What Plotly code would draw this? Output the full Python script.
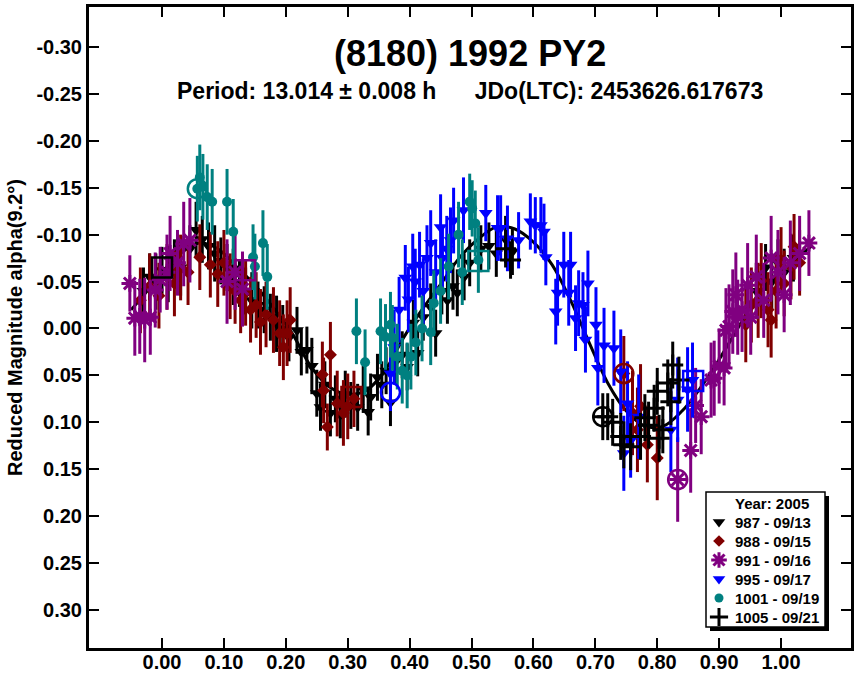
import plotly.graph_objects as go

# ---- data ----
# session 987 - 09/13 (black triangles)
ph_987 = [-0.030, -0.020, -0.010, 0.000, 0.010, 0.020, 0.030, 0.045, 0.055, 0.065,
          0.075, 0.085, 0.095, 0.105, 0.115, 0.125, 0.135, 0.145, 0.155, 0.165,
          0.175, 0.185, 0.195, 0.205, 0.218, 0.225, 0.234, 0.242, 0.250, 0.256,
          0.263, 0.272, 0.280, 0.288, 0.296, 0.305, 0.316, 0.325, 0.333, 0.337,
          0.348, 0.355, 0.362, 0.369, 0.378, 0.388, 0.396, 0.406, 0.413, 0.422,
          0.434, 0.442, 0.452, 0.461, 0.470, 0.477, 0.488, 0.497, 0.515, 0.528,
          0.540, 0.555, 0.566, 0.960, 0.975, 0.985, 0.995, 1.005, 1.020]
mag_987 = [-0.040, -0.055, -0.050, -0.062, -0.058, -0.070, -0.065, -0.085, -0.105, -0.095,
           -0.088, -0.080, -0.072, -0.065, -0.055, -0.048, -0.040, -0.030, -0.025, -0.020,
           -0.012, -0.005, 0.000, 0.010, 0.002, 0.025, 0.023, 0.040, 0.069, 0.084,
           0.060, 0.090, 0.075, 0.092, 0.070, 0.082, 0.084, 0.065, 0.089, 0.073,
           0.052, 0.060, 0.045, 0.079, 0.035, 0.028, 0.041, -0.006, 0.026, -0.012,
           -0.023, 0.005, -0.040, -0.030, -0.045, -0.038, -0.055, -0.070, -0.085, -0.088,
           -0.080, -0.095, -0.082, -0.040, -0.065, -0.050, -0.070, -0.060, -0.075]
err_987 = [0.025, 0.025, 0.030, 0.025, 0.030, 0.025, 0.030, 0.025, 0.030, 0.025,
           0.025, 0.030, 0.025, 0.025, 0.030, 0.025, 0.025, 0.030, 0.025, 0.025,
           0.025, 0.030, 0.025, 0.025, 0.025, 0.025, 0.025, 0.030, 0.025, 0.025,
           0.025, 0.025, 0.025, 0.025, 0.025, 0.025, 0.025, 0.025, 0.025, 0.025,
           0.025, 0.025, 0.025, 0.025, 0.025, 0.025, 0.025, 0.025, 0.025, 0.025,
           0.025, 0.025, 0.025, 0.025, 0.025, 0.025, 0.025, 0.025, 0.025, 0.025,
           0.025, 0.025, 0.025, 0.030, 0.025, 0.030, 0.025, 0.025, 0.025]

# session 988 - 09/15 (dark red diamonds)
ph_988 = [-0.035, -0.020, -0.005, 0.008, 0.020, 0.030, 0.042, 0.061, 0.078, 0.090,
          0.100, 0.110, 0.118, 0.127, 0.135, 0.143, 0.152, 0.159, 0.168, 0.180,
          0.190, 0.196, 0.202, 0.207, 0.259, 0.261, 0.267, 0.272, 0.283, 0.293,
          0.300, 0.310, 0.746, 0.760, 0.768, 0.773, 0.784, 0.800, 0.943, 0.952,
          0.963, 0.968, 0.979, 0.984, 0.992, 1.000, 1.005, 1.016, 1.021, 1.030]
mag_988 = [-0.030, -0.045, -0.035, -0.055, -0.048, -0.065, -0.060, -0.076, -0.068, -0.058,
           -0.070, -0.045, -0.040, -0.030, -0.038, -0.020, -0.025, -0.007, -0.015, -0.009,
           0.005, 0.020, 0.005, -0.009, 0.049, 0.066, 0.105, 0.028, 0.080, 0.090,
           0.083, 0.075, 0.048, 0.090, 0.108, 0.083, 0.124, 0.138, -0.004, -0.025,
           -0.030, -0.051, -0.020, -0.009, -0.040, -0.073, -0.048, -0.066, -0.087, -0.070]
err_988 = [0.035, 0.035, 0.035, 0.035, 0.035, 0.035, 0.035, 0.035, 0.035, 0.035,
           0.035, 0.035, 0.035, 0.035, 0.035, 0.035, 0.035, 0.035, 0.035, 0.035,
           0.035, 0.035, 0.035, 0.035, 0.035, 0.035, 0.025, 0.035, 0.035, 0.035,
           0.035, 0.030, 0.040, 0.045, 0.045, 0.045, 0.040, 0.045, 0.040, 0.040,
           0.040, 0.040, 0.040, 0.040, 0.040, 0.035, 0.035, 0.035, 0.035, 0.035]

# session 991 - 09/16 (purple asterisks)
ph_991 = [-0.052, -0.044, -0.036, -0.028, -0.019, -0.011, -0.003, 0.008, 0.013, 0.025,
          0.035, 0.045, 0.105, 0.118, 0.130, 0.833, 0.854, 0.862, 0.871, 0.887,
          0.892, 0.900, 0.908, 0.911, 0.916, 0.922, 0.927, 0.930, 0.937, 0.946,
          0.951, 0.960, 0.972, 0.984, 0.995, 1.005, 1.015, 1.030, 1.045]
mag_991 = [-0.048, -0.011, -0.013, -0.009, -0.012, -0.041, -0.052, -0.060, -0.080, -0.070,
           -0.090, -0.094, -0.050, -0.060, -0.042, 0.161, 0.130, 0.082, 0.094, 0.055,
           0.053, 0.040, 0.042, 0.002, -0.002, -0.018, -0.036, -0.012, -0.020, -0.046,
           -0.012, -0.055, -0.030, -0.075, -0.060, -0.036, -0.070, -0.080, -0.091]
err_991 = [0.030, 0.040, 0.040, 0.045, 0.040, 0.040, 0.035, 0.040, 0.040, 0.035,
           0.045, 0.045, 0.045, 0.040, 0.040, 0.045, 0.045, 0.040, 0.040, 0.040,
           0.040, 0.040, 0.040, 0.045, 0.045, 0.045, 0.045, 0.040, 0.045, 0.045,
           0.040, 0.045, 0.040, 0.045, 0.045, 0.040, 0.045, 0.040, 0.035]

# session 995 - 09/17 (blue triangles)
ph_995 = [0.369, 0.375, 0.383, 0.393, 0.398, 0.405, 0.409, 0.416, 0.422, 0.428,
          0.434, 0.442, 0.450, 0.453, 0.460, 0.466, 0.471, 0.487, 0.523, 0.542,
          0.547, 0.558, 0.576, 0.595, 0.603, 0.612, 0.617, 0.620, 0.636, 0.639,
          0.649, 0.657, 0.660, 0.668, 0.673, 0.680, 0.684, 0.688, 0.701, 0.704,
          0.714, 0.730, 0.741, 0.746, 0.752, 0.757, 0.770, 0.822, 0.833, 0.849,
          0.857]
mag_995 = [0.048, 0.020, -0.020, -0.054, -0.031, -0.066, -0.050, -0.068, -0.040, -0.075,
           -0.091, -0.060, -0.108, -0.075, -0.085, -0.094, -0.115, -0.126, -0.123, -0.107,
           -0.107, -0.096, -0.094, -0.114, -0.110, -0.110, -0.103, -0.076, -0.018, -0.038,
           -0.068, -0.038, -0.068, -0.011, -0.027, -0.025, 0.012, -0.048, -0.004, 0.042,
           0.018, 0.021, 0.046, 0.133, 0.080, 0.119, 0.094, 0.108, 0.076, 0.065,
           0.055]
err_995 = [0.040, 0.040, 0.035, 0.035, 0.035, 0.035, 0.035, 0.035, 0.035, 0.035,
           0.035, 0.035, 0.035, 0.035, 0.035, 0.035, 0.035, 0.035, 0.030, 0.035,
           0.035, 0.035, 0.030, 0.030, 0.030, 0.030, 0.030, 0.030, 0.035, 0.035,
           0.035, 0.035, 0.035, 0.035, 0.035, 0.035, 0.035, 0.035, 0.040, 0.040,
           0.040, 0.040, 0.045, 0.040, 0.045, 0.040, 0.045, 0.045, 0.045, 0.045,
           0.040]

# session 1001 - 09/19 (teal circles)
ph_1001 = [0.057, 0.061, 0.066, 0.073, 0.081, 0.105, 0.115, 0.147, 0.150, 0.163,
           0.170, 0.314, 0.328, 0.353, 0.361, 0.369, 0.372, 0.380, 0.388, 0.396,
           0.402, 0.410, 0.420, 0.434, 0.439, 0.450, 0.463, 0.479, 0.485, 0.497,
           0.501, 0.506, 0.511]
mag_1001 = [-0.149, -0.161, -0.151, -0.140, -0.135, -0.135, -0.103, -0.076, -0.066, -0.091,
            -0.055, 0.003, 0.036, 0.003, 0.009, -0.004, 0.010, 0.030, 0.045, 0.050,
            0.030, 0.015, 0.000, 0.004, -0.027, -0.040, -0.066, -0.100, -0.060, -0.135,
            -0.128, -0.112, -0.073]
err_1001 = [0.035, 0.035, 0.035, 0.035, 0.035, 0.035, 0.035, 0.035, 0.035, 0.035,
            0.035, 0.035, 0.035, 0.035, 0.035, 0.035, 0.035, 0.035, 0.035, 0.035,
            0.035, 0.035, 0.035, 0.035, 0.035, 0.035, 0.035, 0.035, 0.035, 0.030,
            0.030, 0.035, 0.035]

# session 1005 - 09/21 (black crosses)
ph_1005 = [0.555, 0.563, 0.712, 0.720, 0.728, 0.741, 0.746, 0.757, 0.773, 0.780,
           0.786, 0.795, 0.800, 0.803, 0.809, 0.817, 0.822, 0.825, 0.835]
mag_1005 = [-0.085, -0.073, 0.094, 0.094, 0.100, 0.115, 0.124, 0.126, 0.115, 0.095,
            0.103, 0.085, 0.067, 0.117, 0.108, 0.058, 0.078, 0.039, 0.055]
err_1005 = [0.020, 0.020, 0.025, 0.025, 0.025, 0.025, 0.025, 0.025, 0.025, 0.025,
            0.025, 0.025, 0.025, 0.025, 0.025, 0.025, 0.025, 0.025, 0.025]

# first (open circle) and last (open square) point of each session, None = not seen
first_ph = [None, 0.746, 0.833, 0.369, 0.057, 0.712]
first_mag = [None, 0.048, 0.161, 0.068, -0.149, 0.094]
last_ph = [None, 0.306, 0.134, 0.858, 0.511, 0.000]
last_mag = [None, 0.073, -0.062, 0.056, -0.072, -0.065]

# Fourier fit curve
fit_ph = [-0.05, -0.03, 0.00, 0.03, 0.06, 0.09, 0.12, 0.15, 0.18, 0.21,
          0.24, 0.27, 0.30, 0.33, 0.36, 0.39, 0.42, 0.45, 0.48, 0.51,
          0.54, 0.57, 0.60, 0.63, 0.66, 0.69, 0.72, 0.75, 0.78, 0.81,
          0.84, 0.87, 0.90, 0.93, 0.96, 0.99, 1.02, 1.05]
fit_mag = [-0.020, -0.035, -0.060, -0.080, -0.091, -0.085, -0.066, -0.046, -0.022, 0.005,
           0.040, 0.062, 0.070, 0.066, 0.045, 0.010, -0.020, -0.047, -0.075, -0.095,
           -0.108, -0.106, -0.092, -0.068, -0.030, 0.015, 0.058, 0.088, 0.104, 0.104,
           0.088, 0.063, 0.033, 0.000, -0.033, -0.055, -0.072, -0.088]

session_names = ["987 - 09/13", "988 - 09/15", "991 - 09/16",
                 "995 - 09/17", "1001 - 09/19", "1005 - 09/21"]
legend_title = "Year: 2005"

x_tick_vals = [0.0, 0.1, 0.2, 0.3, 0.4, 0.5, 0.6, 0.7, 0.8, 0.9, 1.0]
x_tick_text = ["0.00", "0.10", "0.20", "0.30", "0.40", "0.50",
               "0.60", "0.70", "0.80", "0.90", "1.00"]
y_tick_vals = [-0.30, -0.25, -0.20, -0.15, -0.10, -0.05, 0.0,
               0.05, 0.10, 0.15, 0.20, 0.25, 0.30]
y_tick_text = ["-0.30", "-0.25", "-0.20", "-0.15", "-0.10", "-0.05", "0.00",
               "0.05", "0.10", "0.15", "0.20", "0.25", "0.30"]

# ---- styles ----
colors = ["black", "#800000", "#800080", "#0000ff", "#008080", "black"]
symbols = ["triangle-down", "diamond", "asterisk-open", "triangle-down", "circle", "cross-thin-open"]
sizes = [12, 10, 14, 12, 10, 15]
legend_sizes = [11, 9, 13, 11, 9, 13]
FONT = "Liberation Sans, Arial, sans-serif"

# plot area in pixels (for placing the hand made legend box)
L, R, T, B = 89, 851, 7, 648


def px(x):
    return (x - L) / (R - L)


def py(y):
    return (B - y) / (B - T)


all_ph = [ph_987, ph_988, ph_991, ph_995, ph_1001, ph_1005]
all_mag = [mag_987, mag_988, mag_991, mag_995, mag_1001, mag_1005]
all_err = [err_987, err_988, err_991, err_995, err_1001, err_1005]

fig = go.Figure()

# fit curve behind the points
fig.add_trace(go.Scatter(x=fit_ph, y=fit_mag, mode="lines",
                         line=dict(color="black", width=3, shape="spline"),
                         showlegend=False, hoverinfo="skip"))

for i in range(6):
    mk = dict(symbol=symbols[i], size=sizes[i], color=colors[i])
    if symbols[i].endswith("-open"):
        mk["line"] = dict(color=colors[i], width=3)
    else:
        mk["line"] = dict(width=0)
    fig.add_trace(go.Scatter(
        x=all_ph[i], y=all_mag[i], mode="markers", name=session_names[i],
        marker=mk, showlegend=False,
        error_y=dict(type="data", array=all_err[i], color=colors[i],
                     thickness=3, width=0),
    ))

# start / end marks
for i in range(6):
    if first_ph[i] is not None:
        fig.add_trace(go.Scatter(x=[first_ph[i]], y=[first_mag[i]], mode="markers",
                                 marker=dict(symbol="circle-open", size=19, color=colors[i],
                                             line=dict(color=colors[i], width=2.5)),
                                 showlegend=False, hoverinfo="skip"))
    if last_ph[i] is not None:
        fig.add_trace(go.Scatter(x=[last_ph[i]], y=[last_mag[i]], mode="markers",
                                 marker=dict(symbol="square-open", size=20, color=colors[i],
                                             line=dict(color=colors[i], width=2.5)),
                                 showlegend=False, hoverinfo="skip"))

# titles
fig.add_annotation(text="(8180) 1992 PY2", xref="paper", yref="paper",
                   x=0.5, y=py(53.5), yanchor="middle", showarrow=False,
                   font=dict(family=FONT, size=36, color="black", weight="bold"))
fig.add_annotation(text="Period: 13.014 ± 0.008 h      JDo(LTC): 2453626.617673",
                   xref="paper", yref="paper", x=0.5, y=py(91), yanchor="middle",
                   showarrow=False,
                   font=dict(family=FONT, size=23, color="black", weight="bold"))

# legend: shadow + box
fig.add_shape(type="rect", xref="paper", yref="paper",
              x0=px(710), x1=px(829), y0=py(631), y1=py(496),
              fillcolor="black", line=dict(width=0), layer="below")
fig.add_shape(type="rect", xref="paper", yref="paper",
              x0=px(706), x1=px(825), y0=py(627), y1=py(492),
              fillcolor="white", line=dict(color="black", width=1.5), layer="below")
fig.add_annotation(text=legend_title, xref="paper", yref="paper",
                   x=px(733), y=py(503), xanchor="left", yanchor="middle",
                   showarrow=False,
                   font=dict(family=FONT, size=15, color="black", weight="bold"))
row_y = [py(522), py(541), py(560), py(579), py(598), py(617)]
for i in range(6):
    fig.add_annotation(text=session_names[i], xref="paper", yref="paper",
                       x=px(733), y=row_y[i], xanchor="left", yanchor="middle",
                       showarrow=False,
                       font=dict(family=FONT, size=15, color="black", weight="bold"))
    lmk = dict(symbol=symbols[i], size=legend_sizes[i], color=colors[i])
    if symbols[i].endswith("-open"):
        lmk["line"] = dict(color=colors[i], width=3)
    fig.add_trace(go.Scatter(x=[px(719)], y=[row_y[i]], mode="markers",
                             marker=lmk, xaxis="x2", yaxis="y2",
                             showlegend=False, hoverinfo="skip"))

fig.update_layout(
    width=864, height=677,
    margin=dict(l=L, r=864 - R, t=T, b=677 - B),
    paper_bgcolor="white", plot_bgcolor="white",
    font=dict(family=FONT, color="black"),
    showlegend=False,
    xaxis=dict(range=[-0.118, 1.113], tickvals=x_tick_vals, ticktext=x_tick_text,
               showgrid=False, zeroline=False, showline=True, linewidth=3,
               linecolor="black", mirror="ticks", ticks="inside", ticklen=10,
               tickwidth=2, tickcolor="black", automargin=False,
               ticklabelstandoff=-6,
               tickfont=dict(family=FONT, size=20, weight="bold")),
    yaxis=dict(range=[0.3405, -0.3426], tickvals=y_tick_vals, ticktext=y_tick_text,
               showgrid=False, zeroline=False, showline=True, linewidth=3,
               linecolor="black", mirror="ticks", ticks="inside", ticklen=10,
               tickwidth=2, tickcolor="black", automargin=False,
               tickfont=dict(family=FONT, size=20, weight="bold"),
               title=dict(text="Reduced Magnitude alpha(9.2°)", standoff=9,
                          font=dict(family=FONT, size=20, weight="bold"))),
    xaxis2=dict(overlaying="x", anchor="y2", range=[0, 1], visible=False),
    yaxis2=dict(overlaying="y", anchor="x2", range=[0, 1], visible=False),
)

# the page body has a default 8px margin; drop it so the figure fills the window
fig.write_html("out.html", config={"displayModeBar": False},
               post_script="document.body.style.margin='0px';")
